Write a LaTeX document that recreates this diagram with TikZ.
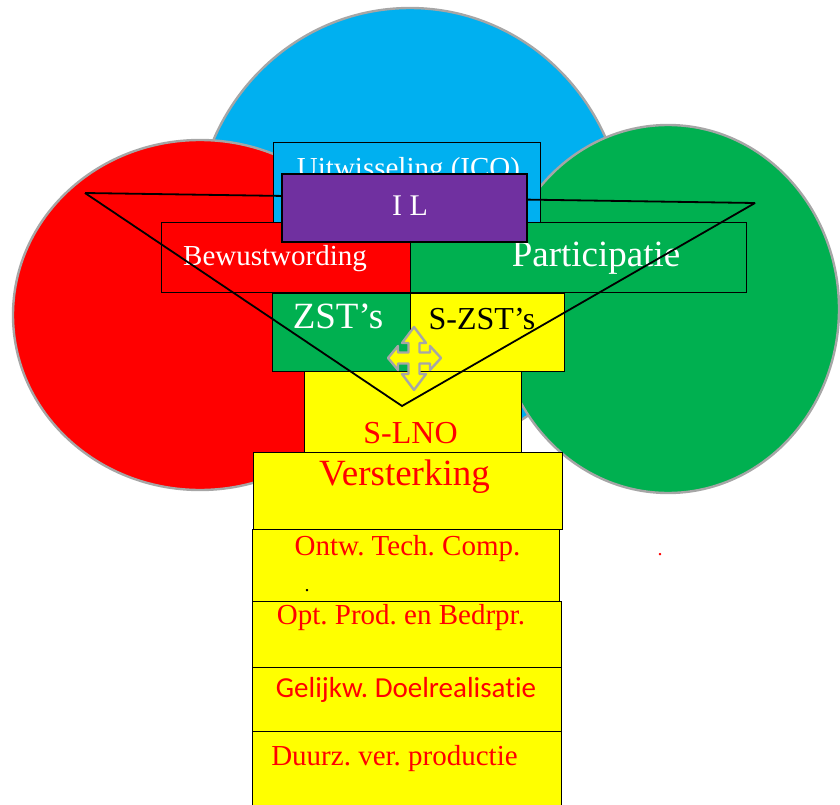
\documentclass[tikz,border=0pt]{standalone}
\usepackage{fontspec}
\setmainfont{Liberation Serif}
\newfontfamily\fuenteCarlito[Ligatures=NoCommon]{Carlito}
\frenchspacing
\usetikzlibrary{fit}
\definecolor{azulcielo}{HTML}{00B0F0}
\definecolor{rojovivo}{HTML}{FF0000}
\definecolor{verdeoficina}{HTML}{00B050}
\definecolor{moradooficina}{HTML}{7030A0}
\definecolor{amarillovivo}{HTML}{FFFF00}
\definecolor{grisborde}{HTML}{A6A6A6}
\colorlet{colAzul}{azulcielo}
\colorlet{colRojo}{rojovivo}
\colorlet{colVerde}{verdeoficina}
\colorlet{colMorado}{moradooficina}
\colorlet{colAmarillo}{amarillovivo}
\colorlet{colBorde}{grisborde}
\tikzset{
  circuloBase/.style={draw=colBorde, line width=2.4pt},
  cajaBase/.style={draw=black, line width=1pt, inner sep=0pt},
  cajaAzul/.style={cajaBase, fill=colAzul},
  cajaRoja/.style={cajaBase, fill=colRojo},
  cajaVerde/.style={cajaBase, fill=colVerde},
  cajaAmarilla/.style={cajaBase, fill=colAmarillo},
  cajaMorada/.style={cajaBase, fill=colMorado, line width=2.4pt},
  textoBase/.style={anchor=base, inner sep=0pt, font=\fontsize{29}{34}\selectfont},
  textoMedio/.style={textoBase, font=\fontsize{32}{38}\selectfont},
  textoGrande/.style={textoBase, font=\fontsize{37}{44}\selectfont},
  lineaV/.style={draw=black, line width=1.8pt},
  flechaCruz/.style={fill=colAmarillo, draw=colBorde, line width=2.4pt, line join=round},
}

\begin{document}
\begin{tikzpicture}[x=1pt, y=-1pt]
  \useasboundingbox (0,0) rectangle (840,805);

  % circulos de fondo
  \draw[circuloBase, fill=colAzul] (410,230) ellipse [x radius=215, y radius=222];
  \draw[circuloBase, fill=colRojo] (200,315) ellipse [x radius=187, y radius=175];
  \draw[circuloBase, fill=colVerde] (668,309) ellipse [x radius=171, y radius=184];

  % cajas superiores
  \node[cajaAzul, fit={(273,143) (540,222)}] (uitw) {};
  \node[cajaRoja, fit={(161,222) (410,292)}] (bew) {};
  \node[cajaVerde, fit={(410,222) (746,292)}] (part) {};
  \node[cajaVerde, fit={(272,293) (410,371)}] (zst) {};
  \node[cajaAmarilla, fit={(410,293) (564,371)}] (szst) {};
  \node[cajaAmarilla, fit={(304,371) (521,453)}] (slno) {};

  % tronco
  \node[cajaAmarilla, fit={(253,452) (562,529)}] (vers) {};
  \node[cajaAmarilla, fit={(252,529) (559,601)}] (ontw) {};
  \node[cajaAmarilla, fit={(252,601) (561,667)}] (opt) {};
  \node[cajaAmarilla, fit={(252,667) (561,731)}] (gel) {};
  \node[cajaAmarilla, fit={(252,731) (561,810)}] (duurz) {};

  \node[textoBase, text=white] (tUitw) at (408.5,178) {Uitwisseling (ICO)};
  \node[textoBase, text=white] (tBew) at (275,265) {Bewustwording};
  \node[textoGrande, text=white] (tPart) at (596,266) {Participatie};
  \node[textoGrande, text=white] (tZst) at (338,328) {ZST’s};
  \node[textoMedio, text=black] (tSzst) at (482,329) {S-ZST’s};
  \node[textoMedio, text=colRojo] (tSlno) at (410.5,443) {S-LNO};
  \node[textoGrande, text=colRojo] (tVers) at (404.5,485) {Versterking};
  \node[textoBase, text=colRojo] (tOntw) at (407.5,555) {Ontw. Tech. Comp.};
  \node[textoBase, text=colRojo] (tOpt) at (401,624) {Opt. Prod. en Bedrpr.};
  \node[textoBase, text=colRojo, font=\fuenteCarlito\fontsize{29}{34}\selectfont] (tGel) at (406,697) {Gelijkw. Doelrealisatie};
  \node[textoBase, text=colRojo] (tDuurz) at (394.5,765) {Duurz. ver. productie};

  % triangulo
  \coordinate (vIzq) at (85,193);
  \coordinate (vDer) at (755,203);
  \coordinate (vAbajo) at (402,406);
  \draw[lineaV] (vIzq) -- (vDer);
  \draw[lineaV] (vIzq) -- (vAbajo) -- (vDer);

  \node[cajaMorada, fit={(282,174) (527,242)}] (il) {};
  \node[textoBase, text=white, font=\fontsize{30}{36}\selectfont] (tIl) at (410,215) {I L};

  % flecha en cruz
  \draw[flechaCruz, shift={(414,358)}]
    (0,-31) -- (12,-15) -- (5.5,-15) -- (5.5,-5.5) -- (16,-5.5) -- (16,-12)
    -- (27,0) -- (16,12) -- (16,5.5) -- (5.5,5.5) -- (5.5,16) -- (12,16)
    -- (0,32) -- (-12,16) -- (-5.5,16) -- (-5.5,5.5) -- (-16,5.5) -- (-16,12)
    -- (-26,0) -- (-16,-12) -- (-16,-5.5) -- (-5.5,-5.5) -- (-5.5,-15)
    -- (-12,-15) -- cycle;

  \node[textoBase, text=black, font=\fontsize{20}{24}\selectfont] (puntoNegro) at (307,591) {.};
  \node[textoBase, text=colRojo, font=\fontsize{20}{24}\selectfont] (puntoRojo) at (660,555) {.};
\end{tikzpicture}
\end{document}
